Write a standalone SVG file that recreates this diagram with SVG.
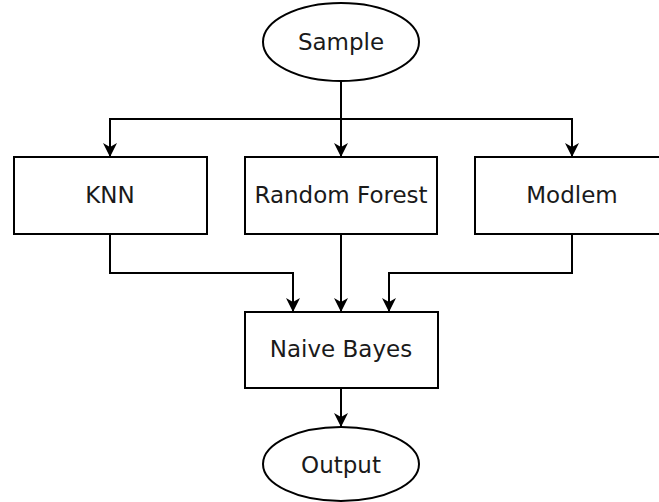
<svg xmlns="http://www.w3.org/2000/svg" width="659" height="502" viewBox="0 0 659 502">
<style>
.n{fill:#fff;stroke:#000;stroke-width:2}
.t{font-family:"DejaVu Sans",Verdana,sans-serif;font-size:23px;fill:#1a1a1a;text-anchor:middle}
.c{fill:none;stroke:#000;stroke-width:2}
</style>
<defs>
<marker id="a" viewBox="0 0 14 14" refX="13" refY="7" markerWidth="14" markerHeight="14" markerUnits="userSpaceOnUse" orient="auto">
<path d="M0,0 L14,7 L0,14 L4,7 Z" fill="#000"/>
</marker>
</defs>
<g id="connectors">
<path class="c" d="M341,81 V156" marker-end="url(#a)"/>
<path class="c" d="M341,119 H110 V156" marker-end="url(#a)"/>
<path class="c" d="M341,119 H572 V156" marker-end="url(#a)"/>
<path class="c" d="M110,234 V273 H293 V311" marker-end="url(#a)"/>
<path class="c" d="M341,234 V311" marker-end="url(#a)"/>
<path class="c" d="M572,234 V273 H389 V311" marker-end="url(#a)"/>
<path class="c" d="M341,388 V426" marker-end="url(#a)"/>
</g>
<g id="sample"><ellipse class="n" cx="341" cy="42" rx="78" ry="39"/><text class="t" x="341" y="50">Sample</text></g>
<g id="knn"><rect class="n" x="14" y="157" width="193" height="77"/><text class="t" x="110" y="203">KNN</text></g>
<g id="rf"><rect class="n" x="245" y="157" width="192" height="77"/><text class="t" x="341" y="203">Random Forest</text></g>
<g id="modlem"><rect class="n" x="475" y="157" width="194" height="77"/><text class="t" x="572" y="203">Modlem</text></g>
<g id="nb"><rect class="n" x="245" y="312" width="193" height="76"/><text class="t" x="341" y="357">Naive Bayes</text></g>
<g id="output"><ellipse class="n" cx="341" cy="464" rx="78" ry="37"/><text class="t" x="341" y="473">Output</text></g>
</svg>
